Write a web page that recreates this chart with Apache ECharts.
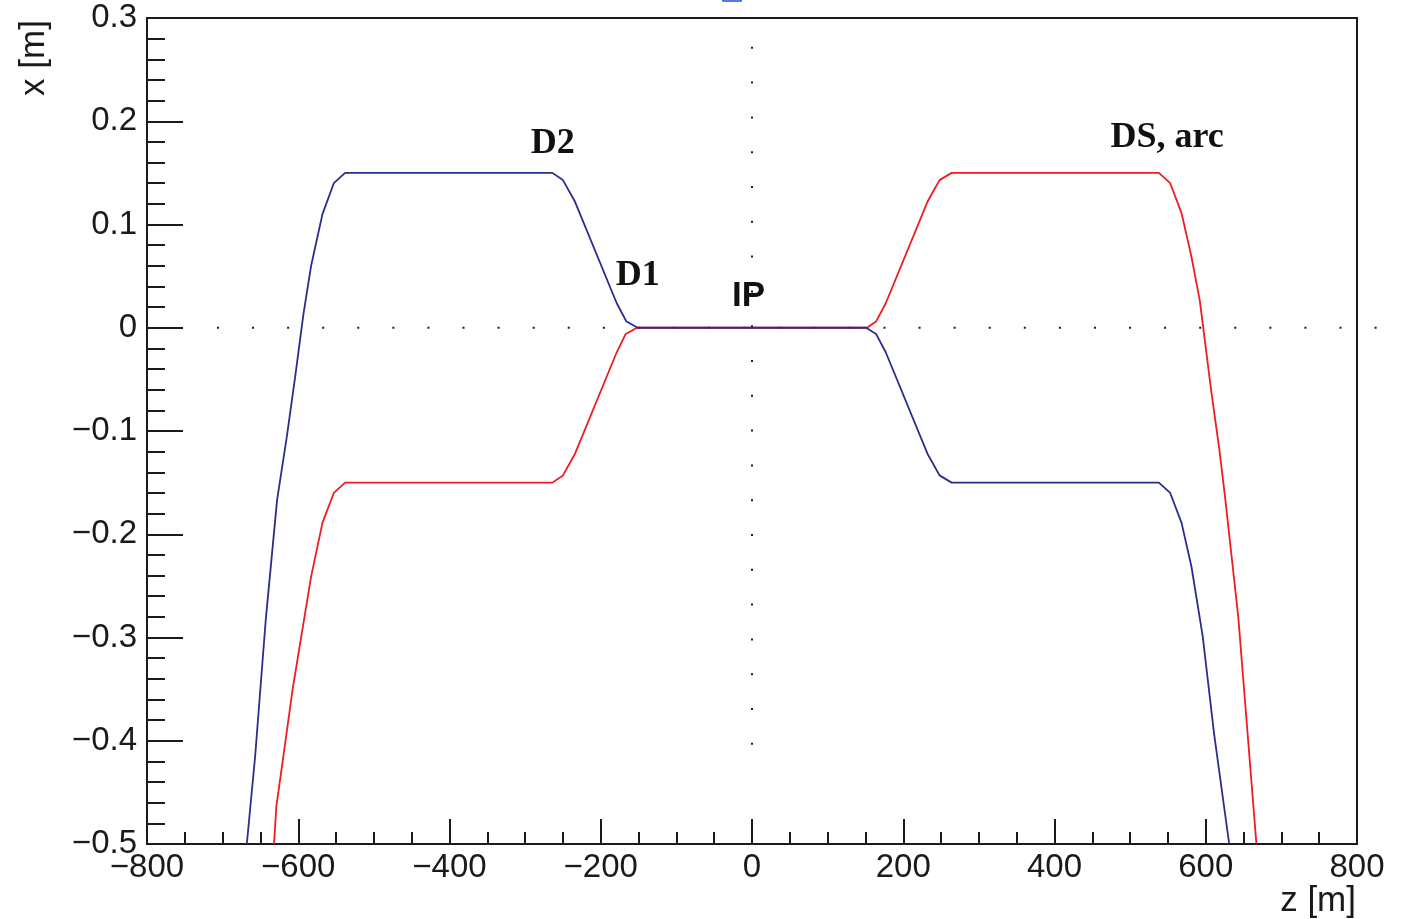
<!DOCTYPE html>
<html>
<head>
<meta charset="utf-8">
<title>beam separation</title>
<script src="https://cdn.jsdelivr.net/npm/echarts@6/dist/echarts.min.js"></script>
<style>
  html, body { margin: 0; padding: 0; background: #fff; }
  #chart { width: 1407px; height: 919px; }
</style>
</head>
<body>
<div id="chart"></div>
<script>
// beam 1 (navy) : z [m], x [m]
const blueZ = [-668, -657, -643, -628, -615, -604, -593, -583, -568, -553, -538,
  -264, -250, -234, -179, -166, -151, 151, 164, 177, 232, 248, 264,
  538, 553, 568, 581, 596, 611, 631];
const blueX = [-0.5, -0.415, -0.283, -0.167, -0.105, -0.047, 0.014, 0.060, 0.110, 0.140, 0.150,
  0.150, 0.143, 0.122, 0.024, 0.006, 0, 0, -0.006, -0.024, -0.122, -0.143, -0.150,
  -0.150, -0.160, -0.189, -0.231, -0.299, -0.393, -0.5];

// beam 2 (red)
const redZ = [-632, -629, -607, -583, -568, -553, -538,
  -264, -250, -234, -179, -167, -152, 152, 164, 177, 232, 248, 264,
  538, 553, 568, 581, 592, 607, 618, 626, 643, 667];
const redX = [-0.5, -0.464, -0.348, -0.241, -0.189, -0.160, -0.150,
  -0.150, -0.143, -0.122, -0.024, -0.006, 0, 0, 0.006, 0.024, 0.122, 0.143, 0.150,
  0.150, 0.140, 0.111, 0.069, 0.027, -0.060, -0.118, -0.167, -0.280, -0.5];

// dotted reference lines (x = 0 and z = 0)
const hDotZ = [-707.5, 826];
const hDotX = [0, 0];
const vDotZ = [0, 0];
const vDotX = [0.2721, -0.4043];

// annotations
const labelText = ['D2', 'D1', 'IP', 'DS, arc'];
const labelZ = [-263.5, -151, -4.7, 548.9];
const labelX = [0.178, 0.0505, 0.0304, 0.1844];

const zTicks = { min: -800, max: 800, step: 200 };
const xTicks = { min: -0.5, max: 0.3, step: 0.1 };

const pair = (a, b) => a.map((v, i) => [v, b[i]]);
const minus = s => s.replace('-', '\u2212');

const myChart = echarts.init(document.getElementById('chart'));
const ink = '#1a1a1a';
const numFont = { fontFamily: 'Liberation Sans', fontSize: 33, color: ink };

const option = {
  animation: false,
  backgroundColor: '#fff',
  grid: {
    left: 147, top: 18, width: 1210, height: 826,
    show: true, borderColor: ink, borderWidth: 2, backgroundColor: 'transparent'
  },
  xAxis: {
    type: 'value',
    min: zTicks.min, max: zTicks.max, interval: zTicks.step,
    axisLine: { onZero: false, lineStyle: { color: ink, width: 2 } },
    axisTick: { inside: true, length: 25, lineStyle: { color: ink, width: 2 } },
    minorTick: { show: true, splitNumber: 4, length: 12, lineStyle: { color: ink, width: 2 } },
    splitLine: { show: false },
    axisLabel: Object.assign({
      margin: 7,
      showMinLabel: true, showMaxLabel: true,
      formatter: v => minus(String(Math.round(v)))
    }, numFont)
  },
  yAxis: {
    type: 'value',
    min: xTicks.min, max: xTicks.max, interval: xTicks.step,
    axisLine: { onZero: false, lineStyle: { color: ink, width: 2 } },
    axisTick: { inside: true, length: 36, lineStyle: { color: ink, width: 2 } },
    minorTick: { show: true, splitNumber: 5, length: 18, lineStyle: { color: ink, width: 2 } },
    splitLine: { show: false },
    axisLabel: Object.assign({
      margin: 10,
      showMinLabel: true, showMaxLabel: true,
      formatter: v => {
        const r = Math.round(v * 10) / 10;
        return r === 0 ? '0' : minus(r.toFixed(1));
      }
    }, numFont)
  },
  graphic: [
    {
      type: 'text', x: 34, y: 58, rotation: Math.PI / 2,
      style: { text: 'x [m]', font: '35px "Liberation Sans"', fill: ink, align: 'center', verticalAlign: 'middle' }
    },
    {
      type: 'text', x: 1356, y: 901,
      style: { text: 'z [m]', font: '35px "Liberation Sans"', fill: ink, align: 'right', verticalAlign: 'middle' }
    },
    {
      type: 'rect', shape: { x: 723, y: -3, width: 18, height: 4 },
      style: { fill: 'none', stroke: '#1f4fe0', lineWidth: 1.5 }
    }
  ],
  series: [
    {
      type: 'line', data: pair(vDotZ, vDotX), symbol: 'none', clip: false, silent: true,
      lineStyle: { color: ink, width: 2, type: [2, 32.8] }
    },
    {
      name: 'beam 2', type: 'line', data: pair(redZ, redX), symbol: 'none',
      lineStyle: { color: '#f01c22', width: 1.8 }
    },
    {
      name: 'beam 1', type: 'line', data: pair(blueZ, blueX), symbol: 'none',
      lineStyle: { color: '#2b2d8e', width: 1.8 }
    },
    {
      type: 'scatter', symbolSize: 0, silent: true, clip: false,
      data: labelText.map((t, i) => ({
        value: [labelZ[i], labelX[i]],
        label: {
          formatter: t,
          color: '#111',
          fontFamily: t === 'IP' ? 'Liberation Sans' : 'Liberation Serif',
          fontSize: t === 'IP' ? 35 : 36
        }
      })),
      label: {
        show: true, position: 'inside', align: 'center', verticalAlign: 'middle',
        fontWeight: 'bold', color: '#111', textBorderWidth: 0, opacity: 1
      },
      itemStyle: { opacity: 1 }
    }
  ]
};

myChart.setOption(option);

// the x = 0 dotted line runs past the frame on the right, so it is drawn
// as a graphic placed through the grid's own scales
const p0 = myChart.convertToPixel({ gridIndex: 0 }, [hDotZ[0], hDotX[0]]);
const p1 = myChart.convertToPixel({ gridIndex: 0 }, [hDotZ[1], hDotX[1]]);
myChart.setOption({
  graphic: option.graphic.concat([{
    type: 'line', z: 1,
    shape: { x1: p0[0], y1: p0[1], x2: p1[0], y2: p1[1] },
    style: { stroke: ink, lineWidth: 2, lineDash: [2, 33.08] }
  }])
});
</script>
</body>
</html>
